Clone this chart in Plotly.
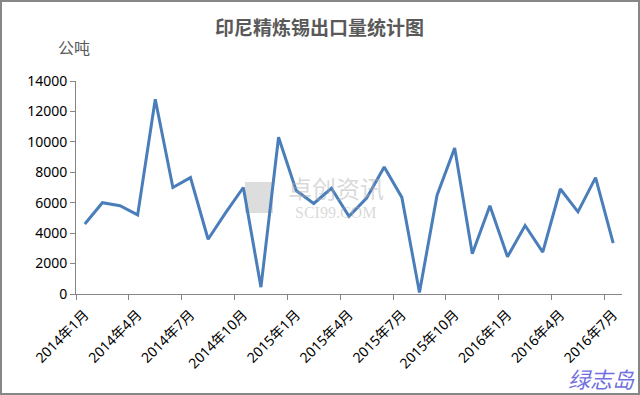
import plotly.graph_objects as go

months = [f"{y}年{m}月" for y, ms in ((2014, range(1, 13)), (2015, range(1, 13)), (2016, range(1, 8))) for m in ms]
exports = [4600, 6000, 5800, 5200, 12800, 7000, 7650, 3600, 5350, 7000, 450, 10300,
           6800, 5950, 6950, 5100, 6300, 8350, 6350, 100, 6500, 9600, 2650, 5800,
           2450, 4500, 2750, 6900, 5400, 7650, 3350]
y_ticks = [0, 2000, 4000, 6000, 8000, 10000, 12000, 14000]
y_tick_labels = [str(v) for v in y_ticks]
title_text = "印尼精炼锡出口量统计图"
unit_text = "公吨"

idx = list(range(len(months)))
label_idx = idx[::3]
label_text = [months[i] for i in label_idx]
boundaries = [i - 0.5 for i in idx[::3]]

W, H = 640, 395
L, R, T, B = 76, 18, 81, 101
pw, ph = W - L - R, H - T - B


def px(x):
    return (x - L) / pw


def py(y):
    return (H - B - y) / ph


CJK = "Noto Sans CJK SC"
NUM = "Noto Sans, Noto Sans CJK SC"

fig = go.Figure()
fig.add_trace(go.Scatter(
    x=idx, y=exports, mode="lines",
    line=dict(color="#4A7EBB", width=3),
    hoverinfo="skip", showlegend=False,
))

fig.update_layout(
    width=W, height=H,
    margin=dict(l=L, r=R, t=T, b=B, autoexpand=False),
    paper_bgcolor="white", plot_bgcolor="white",
    title=dict(text="<b>" + title_text + "</b>", xref="container", yref="container",
               x=319.5 / W, y=1 - 28.5 / H, xanchor="center", yanchor="middle",
               font=dict(family=CJK, size=19, color="#595959")),
    xaxis=dict(
        range=[-0.5, len(months) - 0.5], automargin=False,
        tickmode="array", tickvals=label_idx, ticktext=label_text,
        tickangle=-45, ticks="", ticklabelstandoff=6,
        tickfont=dict(family=NUM, size=14, color="#000000"),
        showline=True, linecolor="#868686", linewidth=1,
        showgrid=False, zeroline=False,
        minor=dict(tickmode="array", tickvals=boundaries, ticks="outside",
                   ticklen=5, tickcolor="#868686", showgrid=False),
    ),
    yaxis=dict(
        range=[0, 14000], automargin=False, tickmode="array",
        tickvals=y_ticks, ticktext=y_tick_labels,
        ticks="outside", ticklen=5, tickcolor="#868686",
        tickfont=dict(family=NUM, size=14, color="#000000"),
        showline=True, linecolor="#868686", linewidth=1,
        showgrid=False, zeroline=False,
    ),
    annotations=[
        dict(text=unit_text, xref="paper", yref="paper", x=px(73.5), y=py(47),
             xanchor="center", yanchor="middle", showarrow=False,
             font=dict(family=CJK, size=16, color="#595959")),
        dict(text="卓创资讯", xref="paper", yref="paper", x=px(336), y=py(187),
             xanchor="center", yanchor="middle", showarrow=False,
             font=dict(family=CJK, size=24, color="rgba(170,170,170,0.45)")),
        dict(text="SCI99.COM", xref="paper", yref="paper", x=px(335), y=py(212),
             xanchor="center", yanchor="middle", showarrow=False,
             font=dict(family="Liberation Serif", size=16, color="rgba(170,170,170,0.45)")),
        dict(text="<i>绿志岛</i>", xref="paper", yref="paper", x=px(601), y=py(378),
             xanchor="center", yanchor="middle", showarrow=False,
             font=dict(family=CJK, size=22, color="#7070E0")),
    ],
    shapes=[
        dict(type="rect", xref="paper", yref="paper",
             x0=px(245), x1=px(273), y0=py(213), y1=py(182),
             fillcolor="rgba(180,180,180,0.45)", line=dict(width=0), layer="below"),
        dict(type="rect", xref="paper", yref="paper",
             x0=px(1), x1=px(639), y0=py(394), y1=py(1),
             line=dict(color="#878787", width=2), fillcolor="rgba(0,0,0,0)"),
    ],
)

fig.write_html("out.html", config={"displayModeBar": False},
               post_script="document.body.style.margin='0';")
